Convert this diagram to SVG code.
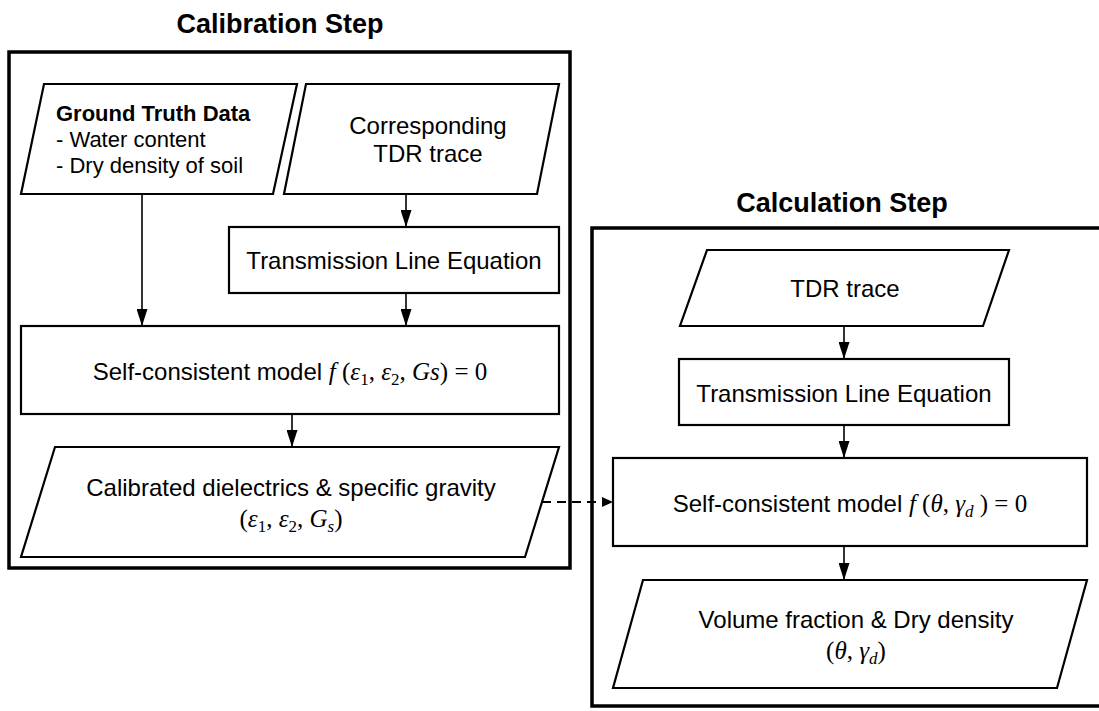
<svg xmlns="http://www.w3.org/2000/svg" width="1099" height="711" viewBox="0 0 1099 711">
  <style>
    .frame { fill: none; stroke: #000; stroke-width: 3.5; }
    .shape { fill: #fff; stroke: #000; stroke-width: 2.2; }
    .title { font-family: "Liberation Sans", Arial, sans-serif; font-weight: bold; font-size: 27px; fill: #000; text-anchor: middle; }
    .lbl { font-family: "Liberation Sans", Arial, sans-serif; font-size: 24px; fill: #000; text-anchor: middle; }
    .lbl-s { font-family: "Liberation Sans", Arial, sans-serif; font-size: 22px; fill: #000; }
    .m { font-family: "Liberation Serif", "Times New Roman", serif; font-size: 25px; }
    .mi { font-family: "Liberation Serif", "Times New Roman", serif; font-size: 25px; font-style: italic; }
    .sub { font-family: "Liberation Serif", "Times New Roman", serif; font-size: 17px; }
    .subi { font-family: "Liberation Serif", "Times New Roman", serif; font-size: 17px; font-style: italic; }
    .flow { fill: none; stroke: #000; stroke-width: 1.6; }
    .dash { fill: none; stroke: #000; stroke-width: 2; stroke-dasharray: 9 6; }
  </style>
  <defs>
    <marker id="arrow" markerUnits="userSpaceOnUse" markerWidth="17" markerHeight="11" refX="17" refY="5.5" orient="auto" viewBox="0 0 17 11">
      <path d="M0,0 L17,5.5 L0,11 Z" fill="#000"/>
    </marker>
    <marker id="arrow-s" markerUnits="userSpaceOnUse" markerWidth="11" markerHeight="10" refX="11" refY="5" orient="auto" viewBox="0 0 11 10">
      <path d="M0,0 L11,5 L0,10 Z" fill="#000"/>
    </marker>
  </defs>

  <!-- Calibration step -->
  <g id="calibration">
    <text class="title" x="280" y="33">Calibration Step</text>
    <rect class="frame" x="9" y="52" width="561" height="516"/>
  </g>

  <g id="ground-truth">
    <polygon class="shape" points="44,84 297,84 273,194 21,194"/>
    <text class="lbl-s" x="56" y="121" font-weight="bold">Ground Truth Data</text>
    <text class="lbl-s" x="56" y="147">- Water content</text>
    <text class="lbl-s" x="56" y="173">- Dry density of soil</text>
  </g>

  <g id="tdr-trace-cal">
    <polygon class="shape" points="306,84 559,84 537,194 284,194"/>
    <text class="lbl" x="428" y="134">Corresponding</text>
    <text class="lbl" x="428" y="162">TDR trace</text>
  </g>

  <g id="tle-cal">
    <rect class="shape" x="229" y="227" width="330" height="66"/>
    <text class="lbl" x="394" y="269">Transmission Line Equation</text>
  </g>

  <g id="model-cal">
    <rect class="shape" x="21" y="326" width="538" height="88"/>
    <text class="lbl" x="290" y="380">Self-consistent model <tspan class="mi">f</tspan><tspan class="m"> (</tspan><tspan class="mi">ε</tspan><tspan class="sub" dy="5">1</tspan><tspan class="m" dy="-5">, </tspan><tspan class="mi">ε</tspan><tspan class="sub" dy="5">2</tspan><tspan class="m" dy="-5">, </tspan><tspan class="mi">Gs</tspan><tspan class="m">) = 0</tspan></text>
  </g>

  <g id="calibrated-output">
    <polygon class="shape" points="55,447 559,447 525,557 21,557"/>
    <text class="lbl" x="291" y="496">Calibrated dielectrics &amp; specific gravity</text>
    <text class="lbl" x="291" y="527"><tspan class="m">(</tspan><tspan class="mi">ε</tspan><tspan class="sub" dy="5">1</tspan><tspan class="m" dy="-5">, </tspan><tspan class="mi">ε</tspan><tspan class="sub" dy="5">2</tspan><tspan class="m" dy="-5">, </tspan><tspan class="mi">G</tspan><tspan class="subi" dy="5">s</tspan><tspan class="m" dy="-5">)</tspan></text>
  </g>

  <!-- Calculation step -->
  <g id="calculation">
    <text class="title" x="842" y="212">Calculation Step</text>
    <rect class="frame" x="592" y="228" width="520" height="478"/>
  </g>

  <g id="tdr-trace-calc">
    <polygon class="shape" points="707,250 1009,250 983,326 680,326"/>
    <text class="lbl" x="845" y="297">TDR trace</text>
  </g>

  <g id="tle-calc">
    <rect class="shape" x="679" y="359" width="330" height="66"/>
    <text class="lbl" x="844" y="402">Transmission Line Equation</text>
  </g>

  <g id="model-calc">
    <rect class="shape" x="613" y="458" width="474" height="88"/>
    <text class="lbl" x="850" y="512">Self-consistent model <tspan class="mi">f</tspan><tspan class="m"> (</tspan><tspan class="mi">θ</tspan><tspan class="m">, </tspan><tspan class="mi">γ</tspan><tspan class="subi" dy="5">d</tspan><tspan class="m" dy="-5"> ) = 0</tspan></text>
  </g>

  <g id="result">
    <polygon class="shape" points="643,580 1087,580 1057,688 613,688"/>
    <text class="lbl" x="856" y="628">Volume fraction &amp; Dry density</text>
    <text class="lbl" x="856" y="659"><tspan class="m">(</tspan><tspan class="mi">θ</tspan><tspan class="m">, </tspan><tspan class="mi">γ</tspan><tspan class="subi" dy="5">d</tspan><tspan class="m" dy="-5">)</tspan></text>
  </g>

  <!-- Connectors -->
  <g id="connectors">
    <line class="flow" x1="142" y1="194" x2="142" y2="326" marker-end="url(#arrow)"/>
    <line class="flow" x1="406" y1="194" x2="406" y2="227" marker-end="url(#arrow)"/>
    <line class="flow" x1="406" y1="293" x2="406" y2="326" marker-end="url(#arrow)"/>
    <line class="flow" x1="292" y1="414" x2="292" y2="447" marker-end="url(#arrow)"/>
    <line class="dash" x1="542" y1="502" x2="613" y2="502" marker-end="url(#arrow-s)"/>
    <line class="flow" x1="844" y1="326" x2="844" y2="359" marker-end="url(#arrow)"/>
    <line class="flow" x1="844" y1="425" x2="844" y2="458" marker-end="url(#arrow)"/>
    <line class="flow" x1="844" y1="546" x2="844" y2="580" marker-end="url(#arrow)"/>
  </g>
</svg>
